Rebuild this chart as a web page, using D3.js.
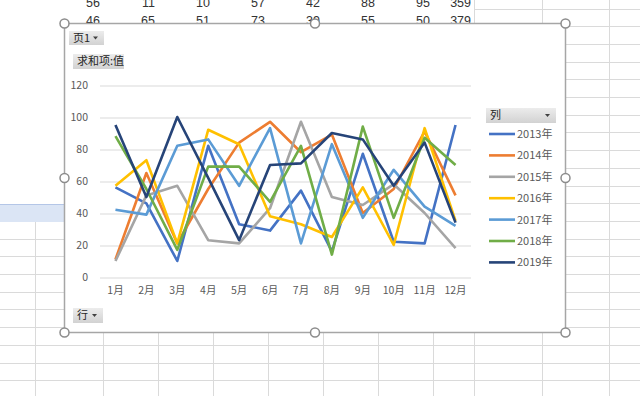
<!DOCTYPE html>
<html>
  <head>
    <meta charset="utf-8">
    <title>Pivot Line Chart</title>
    <script src="https://d3js.org/d3.v7.min.js"></script>
    <style>
      body { margin: 0; background: #fff; }
      text { font-family: "Noto Sans CJK SC", "Noto Sans", sans-serif; }
      .axis .tick line { stroke: #d9d9d9; stroke-width: 1px; }
      .axis .tick text { font-size: 10.5px; fill: #595959; }
      .axis .domain { display: none; }
      .legend text { font-size: 11px; fill: #595959; }
      .btn text { font-size: 11px; fill: #262626; }
      .cell { font-family: "Liberation Sans", sans-serif; font-size: 12.5px; fill: #333; }
    </style>
  </head>
  <body>
    <svg width="640" height="396"></svg>
    <script>
      // values
      const months = ["1月", "2月", "3月", "4月", "5月", "6月", "7月", "8月", "9月", "10月", "11月", "12月"];
      const years = ["2013年", "2014年", "2015年", "2016年", "2017年", "2018年", "2019年"];
      const s2013 = [56, 46, 10, 82, 33, 29, 54, 16, 77, 22, 21, 95];
      const s2014 = [11, 65, 21, 55, 84, 97, 78, 89, 40, 55, 91, 51];
      const s2015 = [10, 51, 57, 23, 21, 43, 97, 50, 45, 58, 40, 18];
      const s2016 = [57, 73, 21, 92, 83, 38, 33, 25, 56, 20, 93, 35];
      const s2017 = [42, 39, 82, 86, 57, 93, 21, 83, 37, 67, 44, 32];
      const s2018 = [88, 55, 17, 69, 69, 47, 82, 14, 94, 37, 87, 70];
      const s2019 = [95, 50, 100, 62, 23, 70, 71, 90, 86, 57, 84, 34];
      const yTicks = [0, 20, 40, 60, 80, 100, 120];
      const colors = ["#4472c4", "#ed7d31", "#a5a5a5", "#ffc000", "#5b9bd5", "#70ad47", "#264478"];

      const seriesList = [s2013, s2014, s2015, s2016, s2017, s2018, s2019];
      const series = years.map((y, i) => ({ name: y, values: seriesList[i], color: colors[i] }));

      const svg = d3.select("svg");
      const width = +svg.attr("width");
      const height = +svg.attr("height");

      // --- sheet background ---
      const colLines = [35, 103, 158, 213, 268, 323, 378, 433, 474, 542, 609];
      const rowH = 17.7;
      const rowLines = d3.range(0, 23).map(i => 8.5 + i * rowH);
      const sheet = svg.append("g");
      sheet.selectAll(".vl").data(colLines).enter().append("line")
          .attr("x1", d => d + 0.5).attr("x2", d => d + 0.5)
          .attr("y1", 0).attr("y2", height)
          .attr("stroke", "#dadada");
      sheet.selectAll(".hl").data(rowLines).enter().append("line")
          .attr("x1", 0).attr("x2", width)
          .attr("y1", d => Math.round(d) + 0.5).attr("y2", d => Math.round(d) + 0.5)
          .attr("stroke", "#dadada");
      // pivot table area
      sheet.append("rect").attr("x", 0).attr("y", 0).attr("width", 474).attr("height", 204).attr("fill", "#fff");
      sheet.append("rect").attr("x", 0).attr("y", 204).attr("width", 474).attr("height", 18).attr("fill", "#dbe5f5");
      sheet.append("line").attr("x1", 0).attr("x2", 474).attr("y1", 204.5).attr("y2", 204.5).attr("stroke", "#b4c6e7");

      // first two pivot rows: Jan and Feb with row total
      const cellRight = [103, 158, 213, 268, 323, 378, 433, 474];
      [0, 1].forEach((m, r) => {
        const row = seriesList.map(s => s[m]);
        row.push(d3.sum(row));
        sheet.selectAll(".c" + r).data(row).enter().append("text")
            .attr("class", "cell")
            .attr("x", (d, i) => cellRight[i] - 3)
            .attr("y", 7 + r * rowH)
            .attr("text-anchor", "end")
            .text(d => d);
      });

      // --- chart frame ---
      const frame = { x: 64.5, y: 23.5, w: 501, h: 309 };
      svg.append("rect")
          .attr("x", frame.x).attr("y", frame.y)
          .attr("width", frame.w).attr("height", frame.h)
          .attr("fill", "#fff")
          .attr("stroke", "#a6a6a6")
          .attr("stroke-width", 1.5);

      const xScale = d3.scaleBand().domain(months).range([100, 471]);
      const yScale = d3.scaleLinear().domain([0, 120]).range([277, 85]);

      const yAxisG = svg.append("g")
          .attr("class", "axis")
          .attr("transform", "translate(100,0)")
          .call(d3.axisLeft(yScale).tickValues(yTicks).tickSizeInner(-371).tickSizeOuter(0).tickPadding(12));
      yAxisG.selectAll(".tick line").attr("transform", "translate(0,0.5)");

      svg.append("g")
          .attr("class", "axis")
          .attr("transform", "translate(0,277)")
          .call(d3.axisBottom(xScale).tickSize(0).tickPadding(10));

      const line = d3.line()
        .x((d, i) => xScale(months[i]) + xScale.bandwidth() / 2)
        .y(d => yScale(d));

      svg.append("g").selectAll("path").data(series).enter().append("path")
          .attr("d", d => line(d.values))
          .attr("fill", "none")
          .attr("stroke", d => d.color)
          .attr("stroke-width", 2.6)
          .attr("stroke-linejoin", "round");

      // --- field buttons ---
      const grad = svg.append("defs").append("linearGradient")
          .attr("id", "btnGrad").attr("x1", 0).attr("x2", 0).attr("y1", 0).attr("y2", 1);
      grad.append("stop").attr("offset", "0%").attr("stop-color", "#ececec");
      grad.append("stop").attr("offset", "100%").attr("stop-color", "#d2d2d2");

      function button(x, y, w, h, label, arrow){
        const b = svg.append("g").attr("class", "btn");
        b.append("rect").attr("x", x).attr("y", y).attr("width", w).attr("height", h).attr("fill", "url(#btnGrad)");
        b.append("text").attr("x", x + 4).attr("y", y + h / 2).attr("dy", "0.36em").text(label);
        if (arrow) {
          b.append("path")
            .attr("d", `M${x + w - 11},${y + h / 2 - 1.5}l5,0l-2.5,3z`)
            .attr("fill", "#404040");
        }
      }
      button(69, 31, 35, 14, "页1", true);
      button(73, 54, 51, 15, "求和项:值", false);
      button(73, 308, 30, 15, "行", true);
      button(486, 108, 70, 15, "列", true);

      // --- legend ---
      const legendG = svg.append("g")
          .attr("class", "legend")
          .attr("transform", "translate(489,134)");
      const item = legendG.selectAll(".item").data(series).enter().append("g")
          .attr("transform", (d, i) => `translate(0,${i * 21.4})`);
      item.append("line")
          .attr("x1", 0).attr("x2", 26)
          .attr("stroke", d => d.color)
          .attr("stroke-width", 2.6);
      item.append("text")
          .attr("x", 28).attr("dy", "0.36em")
          .text(d => d.name);

      // --- selection handles ---
      const hx = [frame.x, frame.x + frame.w / 2, frame.x + frame.w];
      const hy = [frame.y, frame.y + frame.h / 2, frame.y + frame.h];
      const handles = [];
      hx.forEach(x => hy.forEach(y => { if (!(x === hx[1] && y === hy[1])) handles.push([x, y]); }));
      svg.selectAll(".handle").data(handles).enter().append("circle")
          .attr("cx", d => d[0]).attr("cy", d => d[1])
          .attr("r", 4.5)
          .attr("fill", "#fff")
          .attr("stroke", "#8c8c8c")
          .attr("stroke-width", 1.5);
    </script>
  </body>
</html>
